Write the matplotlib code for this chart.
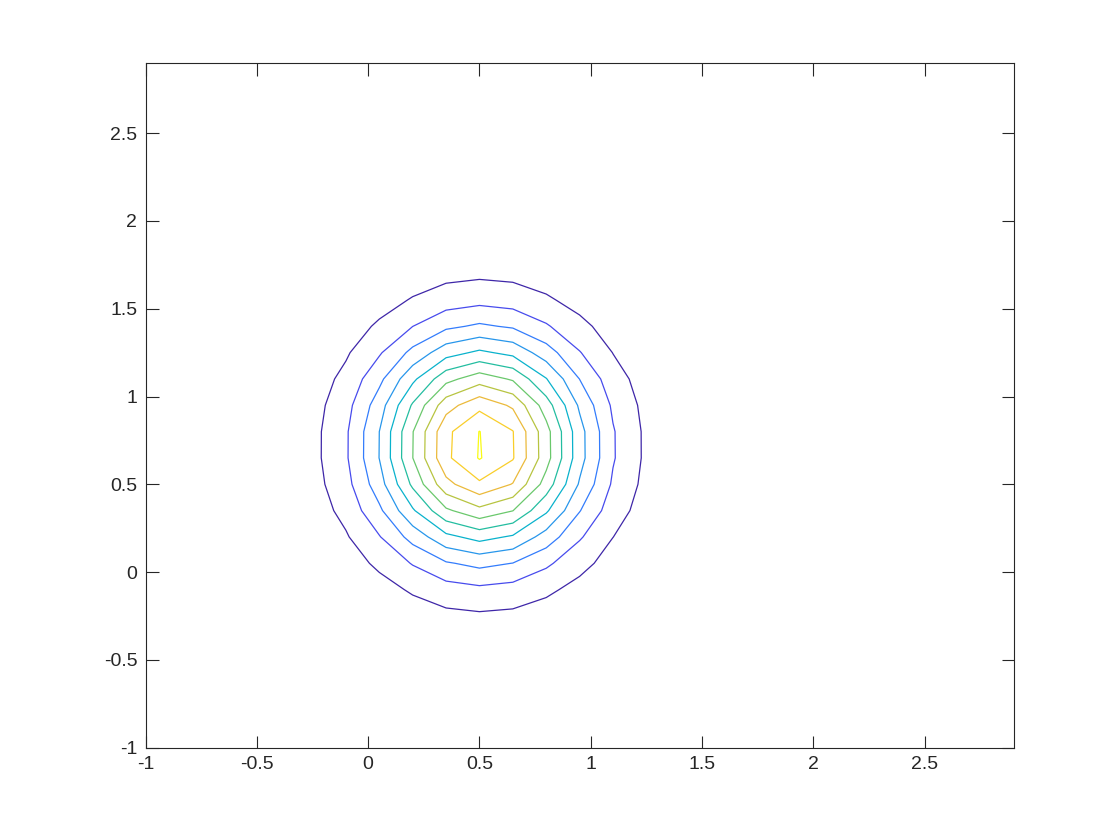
import numpy as np
import matplotlib

matplotlib.use("Agg")
import matplotlib.pyplot as plt
from matplotlib.colors import LinearSegmentedColormap, Normalize

# sampling grid, -1:0.15:2.9 on both axes
x_grid = np.linspace(-1.0, 2.9, 27)
y_grid = np.linspace(-1.0, 2.9, 27)

# gaussian bump
center = (0.51, 0.72)
sigma = (0.323, 0.427)
peak = 1.0

# 11 equally spaced contour levels
level_step = 0.0891
level_count = 11

# approximate parula anchors
parula_anchors = [
    (0.2422, 0.1504, 0.6603),
    (0.2783, 0.2958, 0.9349),
    (0.1996, 0.4882, 0.9888),
    (0.1540, 0.5902, 0.9218),
    (0.0360, 0.6970, 0.8010),
    (0.1387, 0.7412, 0.6244),
    (0.4156, 0.7824, 0.4248),
    (0.7126, 0.7677, 0.2531),
    (0.9226, 0.7290, 0.2302),
    (0.9768, 0.8033, 0.1664),
    (0.9769, 0.9839, 0.0805),
]

X, Y = np.meshgrid(x_grid, y_grid)
Z = peak * np.exp(-((X - center[0]) ** 2 / (2 * sigma[0] ** 2)
                    + (Y - center[1]) ** 2 / (2 * sigma[1] ** 2)))
levels = level_step * np.arange(1, level_count + 1)

parula = LinearSegmentedColormap.from_list("parula", parula_anchors)
axis_colour = (0.15, 0.15, 0.15)

plt.rcParams["font.family"] = ["Liberation Sans", "DejaVu Sans"]
figure = plt.figure(figsize=(11.2, 8.4), dpi=100, facecolor="white")
axis = figure.add_axes([0.13, 0.11, 0.775, 0.815])
# line colours span the level range, like MATLAB's contour CLim
axis.contour(X, Y, Z, levels=levels, cmap=parula,
             norm=Normalize(vmin=levels.min(), vmax=levels.max()), linewidths=0.9)

axis.set_xlim(-1, 2.9)
axis.set_ylim(-1, 2.9)
axis.set_xticks([-1, -0.5, 0, 0.5, 1, 1.5, 2, 2.5])
axis.set_yticks([-1, -0.5, 0, 0.5, 1, 1.5, 2, 2.5])
axis.set_xticklabels(["-1", "-0.5", "0", "0.5", "1", "1.5", "2", "2.5"])
axis.set_yticklabels(["-1", "-0.5", "0", "0.5", "1", "1.5", "2", "2.5"])
axis.tick_params(direction="in", length=9, width=0.8, colors=axis_colour,
                 labelsize=14, top=True, right=True, pad=6)
for spine in axis.spines.values():
    spine.set_color(axis_colour)
    spine.set_linewidth(0.8)

figure.savefig("out.png", dpi=100)
plt.close(figure)
